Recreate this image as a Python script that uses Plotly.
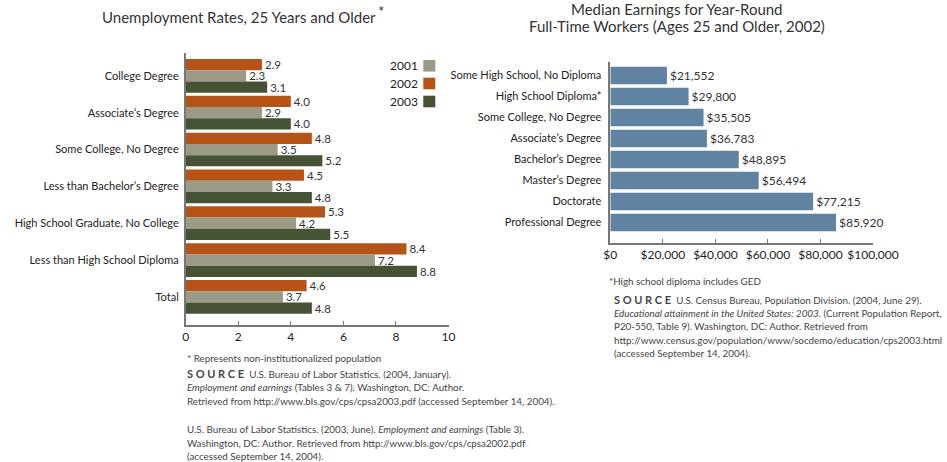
import plotly.graph_objects as go

W, H = 947, 462
def px(x): return x / W
def py(y): return 1 - y / H

# ---------------- data ----------------
unemp_categories = ["College Degree", "Associate’s Degree", "Some College, No Degree",
                    "Less than Bachelor’s Degree", "High School Graduate, No College",
                    "Less than High School Diploma", "Total"]
unemp_2001 = [2.3, 2.9, 3.5, 3.3, 4.2, 7.2, 3.7]
unemp_2002 = [2.9, 4.0, 4.8, 4.5, 5.3, 8.4, 4.6]
unemp_2003 = [3.1, 4.0, 5.2, 4.8, 5.5, 8.8, 4.8]
unemp_ticks = [0, 2, 4, 6, 8, 10]

earn_categories = ["Some High School, No Diploma", "High School Diploma*", "Some College, No Degree",
                   "Associate’s Degree", "Bachelor’s Degree", "Master’s Degree", "Doctorate",
                   "Professional Degree"]
earn_values = [21552, 29800, 35505, 36783, 48895, 56494, 77215, 85920]
earn_ticks = [0, 20000, 40000, 60000, 80000, 100000]
earn_ticklabels = ["$0", "$20,000", "$40,000", "$60,000", "$80,000", "$100,000"]

C2001, C2002, C2003 = "#9A9A86", "#B65417", "#465334"
CBLUE = "#5F83A0"
FONT = "Lato"
TXT = "#333333"

fig = go.Figure()

for name, vals, col in [("2002", unemp_2002, C2002), ("2001", unemp_2001, C2001), ("2003", unemp_2003, C2003)]:
    fig.add_trace(go.Bar(
        y=unemp_categories, x=vals, orientation="h", name=name,
        marker=dict(color=col, line=dict(width=0)),
        text=vals, texttemplate="%{x:.1f}", textposition="outside",
        textfont=dict(family=FONT, size=11.5, color=TXT),
        constraintext="none", cliponaxis=False,
        xaxis="x", yaxis="y", showlegend=False, hoverinfo="skip"))

fig.add_trace(go.Bar(
    y=earn_categories, x=earn_values, orientation="h",
    marker=dict(color=CBLUE, line=dict(width=0)),
    texttemplate="$%{x:,}", textposition="outside",
    textfont=dict(family=FONT, size=12, color=TXT),
    constraintext="none", cliponaxis=False, width=0.84,
    xaxis="x2", yaxis="y2", showlegend=False, hoverinfo="skip"))

axis_line = dict(showline=True, linecolor="#777777", linewidth=1.5, showgrid=False,
                 zeroline=False, automargin=False)

fig.update_layout(
    width=W, height=H, autosize=False,
    margin=dict(l=0, r=0, t=0, b=0, pad=0, autoexpand=False),
    paper_bgcolor="white", plot_bgcolor="white",
    font=dict(family=FONT, color=TXT),
    barmode="group", bargap=0.085, bargroupgap=0,
    xaxis=dict(domain=[px(185.7), px(448.5)], range=[0, 10], tickvals=unemp_ticks,
               ticks="inside", ticklen=5, tickcolor="#777777",
               tickfont=dict(family=FONT, size=12, color="#222222"),
               anchor="y", **axis_line),
    yaxis=dict(domain=[py(325.3), py(52.7)], range=[6.77, -0.627], type="category",
               ticks="", ticklabelstandoff=3,
               tickfont=dict(family=FONT, size=11, color="#222222"),
               anchor="x", **axis_line),
    xaxis2=dict(domain=[px(610.3), px(873)], range=[0, 100000], tickvals=earn_ticks,
                ticktext=earn_ticklabels, ticks="inside", ticklen=5, tickcolor="#777777",
                tickfont=dict(family=FONT, size=12, color="#222222"),
                anchor="y2", **axis_line),
    yaxis2=dict(domain=[py(243.3), py(61.7)], range=[7.99, -0.657], type="category",
                ticks="", ticklabelstandoff=5,
                tickfont=dict(family=FONT, size=11, color="#222222"),
                anchor="x2", **axis_line),
)

ann = []
def text(x, y, s, size=9.8, xanchor="left", color="#444444", yanchor="middle"):
    ann.append(dict(x=px(x), y=py(y), xref="paper", yref="paper", text=s, showarrow=False,
                    xanchor=xanchor, yanchor=yanchor, borderpad=0,
                    font=dict(family=FONT, size=size, color=color)))

# titles
text(239, 17, "Unemployment Rates, 25 Years and Older", size=15, xanchor="center", color="#333333")
text(377, 11, "*", size=15, xanchor="left", color="#333333")
text(677, 9.5, "Median Earnings for Year-Round", size=15, xanchor="center", color="#333333")
text(677, 25.5, "Full-Time Workers (Ages 25 and Older, 2002)", size=15, xanchor="center", color="#333333")

# legend (boxes + labels)
shapes = []
for label, col, y0 in [("2001", C2001, 60), ("2002", C2002, 77.7), ("2003", C2003, 95.7)]:
    shapes.append(dict(type="rect", xref="paper", yref="paper", x0=px(423.3), x1=px(435.3),
                       y0=py(y0 + 11.6), y1=py(y0), fillcolor=col, line=dict(width=0)))
    text(419, y0 + 6, label, size=12, xanchor="right", color="#222222")

# left footnotes
SRC = "<b><span style='font-size:11px'>S O U R C E</span></b>"
text(186, 358, "* Represents non-institutionalized population")
text(186, 373, SRC + "  U.S. Bureau of Labor Statistics. (2004, January).")
text(186, 387, "<i>Employment and earnings</i> (Tables 3 &amp; 7). Washington, DC: Author.")
text(186, 401, "Retrieved from http://www.bls.gov/cps/cpsa2003.pdf (accessed September 14, 2004).")
text(186, 429, "U.S. Bureau of Labor Statistics. (2003, June). <i>Employment and earnings</i> (Table 3).")
text(186, 443, "Washington, DC: Author. Retrieved from http://www.bls.gov/cps/cpsa2002.pdf")
text(186, 456, "(accessed September 14, 2004).")

# right footnotes
text(608, 281, "*High school diploma includes GED")
text(613, 299, SRC + "  U.S. Census Bureau, Population Division. (2004, June 29).")
text(613, 313, "<i>Educational attainment in the United States: 2003.</i> (Current Population Report,")
text(613, 326, "P20-550, Table 9). Washington, DC: Author. Retrieved from")
text(613, 340, "http://www.census.gov/population/www/socdemo/education/cps2003.html")
text(613, 353, "(accessed September 14, 2004).")

fig.update_layout(annotations=ann, shapes=shapes)
fig.write_html("out.html", config={"displayModeBar": False},
               post_script="document.body.style.margin='0';document.body.style.overflow='hidden';")
